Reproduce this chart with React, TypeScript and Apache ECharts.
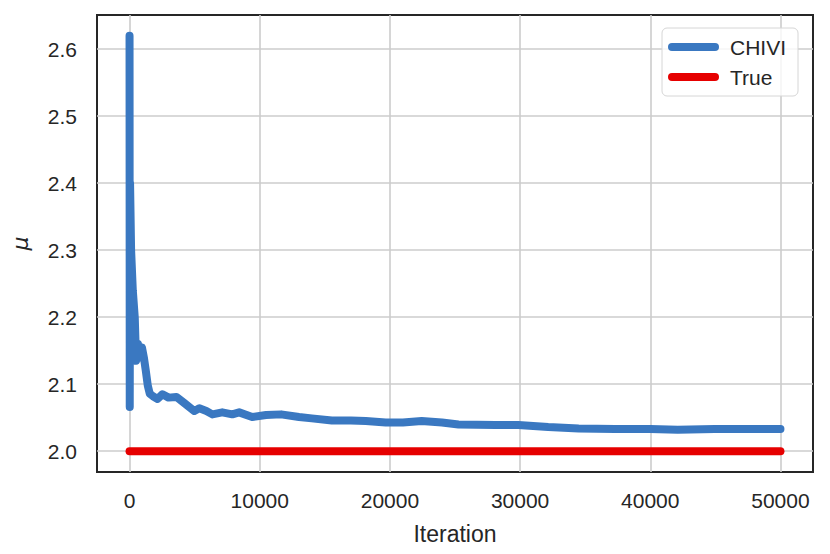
import React, { useEffect, useRef } from "react";
import * as echarts from "echarts";

const iterations = [
  0, 15, 40, 120, 250, 400, 500, 650, 800, 950, 1100, 1250, 1400, 1550, 1800,
  2150, 2530, 3000, 3600, 4200, 4980, 5360, 5900, 6360, 7120, 7890, 8420, 9420,
  10490, 11640, 13020, 14000, 15540, 17000, 18150, 19680, 21000, 22440, 24000,
  25270, 28100, 29860, 32160, 34500, 37290, 40000, 42110, 44950, 47500, 50000,
];
const chiviValues = [
  2.62, 2.066, 2.4, 2.3, 2.24, 2.2, 2.135, 2.16, 2.14, 2.155, 2.14, 2.12, 2.098,
  2.086, 2.082, 2.078, 2.085, 2.08, 2.081, 2.072, 2.06, 2.064, 2.06, 2.055,
  2.058, 2.055, 2.058, 2.051, 2.054, 2.055, 2.051, 2.049, 2.046, 2.046, 2.045,
  2.043, 2.043, 2.045, 2.043, 2.04, 2.039, 2.039, 2.036, 2.034, 2.033, 2.033,
  2.032, 2.033, 2.033, 2.033,
];
const trueIterations = [0, 50000];
const trueValues = [2.0, 2.0];
const xTicks = [0, 10000, 20000, 30000, 40000, 50000];
const yTicks = [2.0, 2.1, 2.2, 2.3, 2.4, 2.5, 2.6];
const seriesNames = ["CHIVI", "True"];

const FONT = "'Liberation Sans', Arial, sans-serif";
const TXT = "#262626";
const pill = "path://M4,0 L47,0 A4,4 0 0 1 47,8 L4,8 A4,4 0 0 1 4,0 Z";

export default function App() {
  const ref = useRef<HTMLDivElement>(null);
  useEffect(() => {
    if (!ref.current) return;
    const chart = echarts.init(ref.current, null, { renderer: "svg" });
    chart.setOption({
      animation: false,
      backgroundColor: "#ffffff",
      textStyle: { fontFamily: FONT },
      grid: {
        left: 97,
        right: 17,
        top: 15,
        bottom: 82,
        show: true,
        borderColor: TXT,
        borderWidth: 2,
        backgroundColor: "transparent",
        containLabel: false,
      },
      legend: {
        orient: "vertical",
        left: 662,
        top: 28,
        padding: [8, 12, 8, 6],
        itemGap: 8,
        itemWidth: 51,
        itemHeight: 8,
        borderColor: "#d6d6d6",
        borderWidth: 1,
        borderRadius: 5,
        backgroundColor: "rgba(255,255,255,0.8)",
        textStyle: { fontSize: 21, color: TXT, fontFamily: FONT, padding: [0, 0, 0, 6], lineHeight: 22 },
        data: seriesNames.map((n) => ({ name: n, icon: pill })),
      },
      xAxis: {
        type: "value",
        min: -2500,
        max: 52500,
        name: "Iteration",
        nameLocation: "middle",
        nameGap: 50,
        nameTextStyle: { fontSize: 23, color: TXT, fontFamily: FONT },
        axisLine: { show: false },
        axisTick: { show: false, customValues: xTicks },
        axisLabel: {
          customValues: xTicks,
          fontSize: 21,
          color: TXT,
          margin: 18,
          fontFamily: FONT,
          formatter: (v: number) => String(v),
        },
        splitLine: { show: true, lineStyle: { color: "#cccccc", width: 1.6 } },
      },
      yAxis: {
        type: "value",
        min: 1.969,
        max: 2.651,
        name: "μ",
        nameLocation: "middle",
        nameGap: 66,
        nameRotate: 90,
        nameTextStyle: { fontSize: 22, color: TXT, fontStyle: "italic", fontFamily: "'DejaVu Sans', sans-serif" },
        axisLine: { show: false },
        axisTick: { show: false, customValues: yTicks },
        axisLabel: {
          customValues: yTicks,
          fontSize: 21,
          color: TXT,
          margin: 20,
          fontFamily: FONT,
          formatter: (v: number) => v.toFixed(1),
        },
        splitLine: { show: true, lineStyle: { color: "#cccccc", width: 1.6 } },
      },
      series: [
        {
          name: seriesNames[0],
          type: "line",
          data: iterations.map((x, i) => [x, chiviValues[i]]),
          showSymbol: false,
          symbol: "none",
          color: "#3a78c1",
          lineStyle: { width: 8, color: "#3a78c1", cap: "round", join: "round" },
        },
        {
          name: seriesNames[1],
          type: "line",
          data: trueIterations.map((x, i) => [x, trueValues[i]]),
          showSymbol: false,
          symbol: "none",
          color: "#e60000",
          lineStyle: { width: 8, color: "#e60000", cap: "round", join: "round" },
        },
      ],
    });
    return () => chart.dispose();
  }, []);
  return (
    <div
      ref={ref}
      style={{ position: "fixed", left: 0, top: 0, width: 830, height: 554 }}
    />
  );
}
